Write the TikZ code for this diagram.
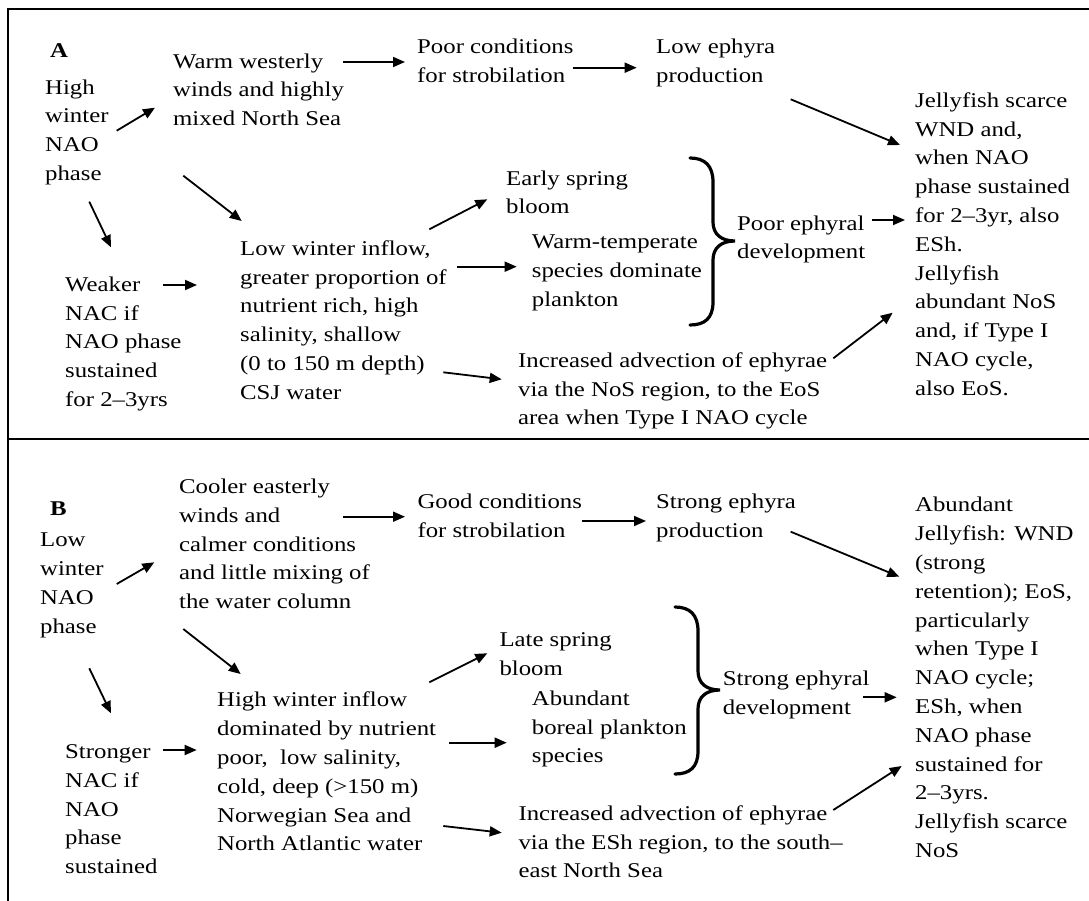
\documentclass[tikz,border=0pt]{standalone}
\usepackage{fontspec}
\setmainfont{Liberation Serif}[FakeStretch=1.18]
\usetikzlibrary{arrows.meta}
\tikzset{
 txt/.style={anchor=north west, inner sep=0pt, align=left, yshift=20.16pt, font=\fontsize{21}{28.8}\selectfont},
 lbl/.style={anchor=base west, inner sep=0pt, font=\fontsize{21}{28.8}\selectfont\bfseries},
 arr/.style={line width=1.8pt, -{Triangle[length=12pt,width=10pt]}},
 frame/.style={line width=2.4pt},
 brc/.style={line width=3.2pt, line cap=round}
}
\begin{document}
\begin{tikzpicture}[x=1pt,y=-1pt]
\useasboundingbox (0,0) rectangle (1089,901);
% frame
\draw[frame] (8,901) -- (8,9) -- (1089,9);
\draw[frame] (8,439) -- (1089,439);

% ---------------- Panel A ----------------
\node[lbl] (nA) at (50,58) {A};
\node[txt] (hA) at (45,94) {\strut High\\winter\\NAO\\phase};
\node[txt] (wA) at (173,68) {\strut Warm westerly\\winds and highly\\mixed North Sea};
\node[txt] (pA) at (417,53.5) {\strut Poor conditions\\for strobilation};
\node[txt] (lA) at (656,53.5) {\strut Low ephyra\\production};
\node[txt] (jA) at (915,107) {\strut Jellyfish scarce\\WND and,\\when NAO\\phase sustained\\for 2--3yr, also\\ESh.\\Jellyfish\\abundant NoS\\and, if Type I\\NAO cycle,\\also EoS.};
\node[txt] (esA) at (506,185) {\strut Early spring\\bloom};
\node[txt] (wtA) at (531.7,248.5) {\strut Warm-temperate\\species dominate\\plankton};
\node[txt] (peA) at (737,230) {\strut Poor ephyral\\development};
\node[txt] (lwA) at (240,255) {\strut Low winter inflow,\\greater proportion of\\nutrient rich, high\\salinity, shallow\\(0 to 150 m depth)\\CSJ water};
\node[txt] (wkA) at (65,291) {\strut Weaker\\NAC if\\NAO phase\\sustained\\for 2--3yrs};
\node[txt] (iaA) at (518,367) {\strut Increased advection of ephyrae\\via the NoS region, to the EoS\\area when Type I NAO cycle};

\coordinate (a1s) at (116.7,130.7); \coordinate (a1e) at (155,107.7);
\coordinate (a2s) at (183.3,175.7); \coordinate (a2e) at (241.7,221);
\coordinate (a3s) at (89.3,201.7);  \coordinate (a3e) at (111,247.3);
\coordinate (a4s) at (343,62);      \coordinate (a4e) at (405,62);
\coordinate (a5s) at (572.7,67.7);  \coordinate (a5e) at (636.7,67.7);
\coordinate (a6s) at (790.7,99.3);  \coordinate (a6e) at (900,145);
\coordinate (a7s) at (163,285);     \coordinate (a7e) at (197,285);
\coordinate (a8s) at (429.3,229.3); \coordinate (a8e) at (487.3,199.3);
\coordinate (a9s) at (457,266.7);   \coordinate (a9e) at (516.7,266.7);
\coordinate (a10s) at (443.3,372.3); \coordinate (a10e) at (501.7,379.3);
\coordinate (a11s) at (871.7,220);  \coordinate (a11e) at (905,220);
\coordinate (a12s) at (833.3,358.3); \coordinate (a12e) at (892.7,312.7);
\foreach \i in {1,...,12} \draw[arr] (a\i s) -- (a\i e);

\draw[brc] (690,158) .. controls (705,158) and (713,166) .. (713,182) -- (713,222)
  .. controls (713,234) and (721,241) .. (735,241)
  .. controls (721,241) and (713,248) .. (713,260) -- (713,302)
  .. controls (713,318) and (705,325) .. (690,325);

% ---------------- Panel B ----------------
\node[lbl] (nB) at (50,515) {B};
\node[txt] (hB) at (40,546.7) {\strut Low\\winter\\NAO\\phase};
\node[txt] (cB) at (179,493.3) {\strut Cooler easterly\\winds and\\calmer conditions\\and little mixing of\\the water column};
\node[txt] (gB) at (417.3,508.3) {\strut Good conditions\\for strobilation};
\node[txt] (sB) at (656,508.3) {\strut Strong ephyra\\production};
\node[txt] (aB) at (915,511.7) {\strut Abundant\\Jellyfish: WND\\(strong\\retention); EoS,\\particularly\\when Type I\\NAO cycle;\\ESh, when\\NAO phase\\sustained for\\2--3yrs.\\Jellyfish scarce\\NoS};
\node[txt] (lsB) at (499.3,646.7) {\strut Late spring\\bloom};
\node[txt] (abB) at (531.7,705) {\strut Abundant\\boreal plankton\\species};
\node[txt] (seB) at (722.7,685) {\strut Strong ephyral\\development};
\node[txt] (hwB) at (217,706.7) {\strut High winter inflow\\dominated by nutrient\\poor,\ \ low salinity,\\cold, deep (>150 m)\\Norwegian Sea and\\North Atlantic water};
\node[txt] (stB) at (65,758.3) {\strut Stronger\\NAC if\\NAO\\phase\\sustained};
\node[txt] (iaB) at (518.3,820) {\strut Increased advection of ephyrae\\via the ESh region, to the south--\\east North Sea};

\coordinate (b1s) at (116.7,584);   \coordinate (b1e) at (154.3,562.3);
\coordinate (b2s) at (183.3,629);   \coordinate (b2e) at (240.7,674);
\coordinate (b3s) at (89.3,668.3);  \coordinate (b3e) at (111,713.3);
\coordinate (b4s) at (343,516.7);   \coordinate (b4e) at (405,516.7);
\coordinate (b5s) at (581.7,521);   \coordinate (b5e) at (646,521);
\coordinate (b6s) at (790.7,531.7); \coordinate (b6e) at (899.3,576.7);
\coordinate (b7s) at (163.3,750);   \coordinate (b7e) at (196.7,750);
\coordinate (b8s) at (429.3,682.3); \coordinate (b8e) at (487.3,653.3);
\coordinate (b9s) at (449,742.7);   \coordinate (b9e) at (506.7,742.7);
\coordinate (b10s) at (443.3,826);  \coordinate (b10e) at (501.7,832.7);
\coordinate (b11s) at (863.3,697.3); \coordinate (b11e) at (896.7,697.3);
\coordinate (b12s) at (833.3,810);  \coordinate (b12e) at (901.7,766);
\foreach \i in {1,...,12} \draw[arr] (b\i s) -- (b\i e);

\draw[brc] (675,607) .. controls (690,607) and (698,615) .. (698,631) -- (698,671)
  .. controls (698,683) and (706,690) .. (720,690)
  .. controls (706,690) and (698,697) .. (698,709) -- (698,751)
  .. controls (698,767) and (690,774) .. (675,774);
\end{tikzpicture}
\end{document}
